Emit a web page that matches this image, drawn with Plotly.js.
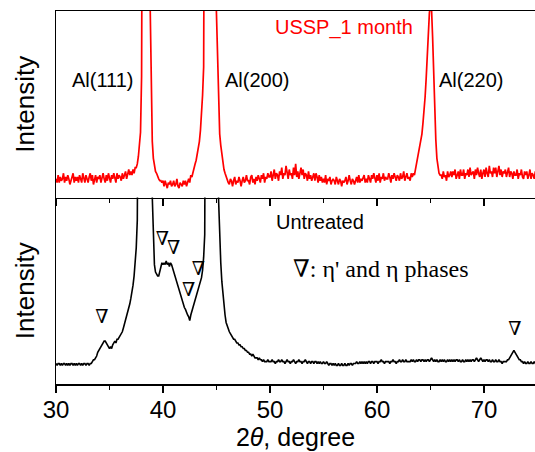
<!DOCTYPE html>
<html>
<head>
<meta charset="utf-8">
<script src="https://cdn.plot.ly/plotly-3.0.1.min.js"></script>
<style>html,body{margin:0;padding:0;background:#fff;}#chart{width:535px;height:452px;}</style>
</head>
<body>
<div id="chart"></div>
<script>
// 2θ sampling grid: 30.0 to 75.0 in 0.1° steps
const thetaStart = 30.0;
const thetaStep = 0.1;

// USSP_1 month (red, top panel), one value per 0.1°
const usspIntensity = [
 10,8,12,8,11,9,10,13,8,11,
 9,12,10,7,9,12,13,8,11,9,
 11,8,12,10,8,13,10,8,12,10,
 8,11,13,9,12,7,10,12,8,11,
 10,12,8,10,13,10,8,12,9,13,
 10,8,12,10,13,11,8,13,10,12,
 11,9,13,10,12,14,10,13,15,12,
 14,12,15,13,16,16,18,22,27,35,
 65,130,320,600,540,380,230,140,105,50,
 30,21,17,14,13,11,10,9,9,8,
 9,6,9,7,5,8,7,9,6,7,
 9,6,7,10,6,5,8,7,6,9,
 7,9,6,8,10,8,12,11,14,16,
 18,20,23,26,30,36,44,55,70,95,
 140,300,650,950,1100,900,600,320,180,120,
 98,72,50,34,28,23,18,15,13,11,
 10,8,7,10,9,6,9,11,7,9,
 8,11,9,6,9,11,8,9,12,9,
 9,7,11,12,8,10,7,11,9,12,
 10,8,12,10,13,8,11,10,13,11,
 11,14,9,12,15,10,13,12,9,14,
 12,16,10,13,12,17,13,10,15,12,
 13,10,16,12,18,11,14,10,13,16,
 12,15,10,13,12,9,14,10,12,9,
 11,13,9,13,11,8,12,9,11,8,
 10,8,12,7,10,9,11,7,9,10,
 9,7,11,9,7,10,9,6,9,8,
 9,11,7,9,12,9,7,10,9,7,
 9,11,8,12,8,10,9,11,12,8,
 10,8,12,10,8,12,10,13,10,8,
 12,9,13,8,11,10,13,9,11,10,
 10,13,11,8,12,10,13,11,9,12,
 11,9,13,10,11,14,9,11,13,10,
 11,9,13,11,13,12,15,17,20,24,
 27,30,34,40,46,54,64,76,90,99,
 103,101,86,64,46,31,21,16,13,12,
 12,10,14,11,12,9,14,11,12,14,
 11,14,12,15,10,12,14,10,15,12,
 12,15,10,13,12,15,11,16,12,13,
 14,10,15,12,16,13,11,15,10,13,
 15,11,16,13,11,17,13,14,11,16,
 13,16,11,14,17,12,15,11,14,13,
 15,11,13,16,11,14,13,10,14,12,
 12,15,10,13,12,15,11,10,14,12,
 14,10,12,15,10,13,12,10,14,12,
 12
];

// Untreated (black, bottom panel), one value per 0.1°
const untreatedIntensity = [
 11,10,11,11,10,11,10,11,11,10,
 11,10,11,10,11,11,10,11,10,11,
 10,11,11,10,11,10,11,11,10,11,
 11,10,11,11,12,13,13,14,15,17,
 18,19,20,21,22,23,23,22,21,20,
 19,20,19,21,22,23,22,24,24,25,
 26,27,28,30,32,34,36,38,40,43,
 46,49,53,58,64,73,88,110,160,260,
 420,620,820,900,820,620,420,260,170,120,
 100,82,64,60,59,58,58,61,63,65,
 64,65,64,66,64,65,63,65,64,62,
 60,58,56,54,52,50,48,46,44,42,
 41,40,38,37,36,34,37,39,41,43,
 44,46,48,50,52,54,57,61,68,80,
 110,200,400,700,900,1000,800,500,300,180,
 150,120,98,78,65,55,48,42,37,33,
 31,29,28,27,26,25,24,24,23,22,
 22,21,21,20,20,19,19,18,18,17,
 17,16,16,15,16,15,14,14,14,13,
 14,13,13,12,13,12,12,12,13,12,
 12,12,13,12,12,11,12,12,13,12,
 12,13,12,12,11,12,13,12,12,11,
 12,12,13,12,11,12,12,13,12,12,
 11,12,12,13,12,11,12,12,11,12,
 12,11,12,12,11,12,11,12,11,11,
 12,11,11,12,11,10,11,11,10,11,
 10,11,10,10,11,10,10,11,10,10,
 11,10,10,11,10,11,11,10,11,11,
 11,12,11,11,12,11,12,11,12,11,
 12,11,12,12,11,12,12,11,12,12,
 12,11,12,12,13,12,12,11,12,12,
 12,12,11,12,12,13,12,12,11,12,
 12,13,12,12,13,12,12,13,12,12,
 12,12,13,12,13,12,12,13,12,13,
 13,12,13,13,12,13,12,13,13,12,
 13,14,13,12,13,12,13,12,12,13,
 12,13,12,13,12,12,13,12,13,12,
 13,12,13,12,13,13,12,13,12,12,
 13,12,12,13,12,13,12,13,12,13,
 13,12,13,14,13,12,13,14,13,12,
 13,12,13,13,12,13,12,12,13,12,
 12,13,12,12,13,12,12,11,12,12,
 12,12,13,13,14,15,16,17,18,17,
 16,15,14,13,13,12,12,11,12,11,
 11,12,11,11,12,11,11,12,11,11,
 11
];

// η' and η phase markers (bottom panel)
const phaseX = [34.3, 39.95, 41.0, 42.4, 43.3, 72.9];
const phaseY = [35, 77, 72.5, 50, 61, 29];

// Peak labels (top panel)
const peakLabels = ['Al(111)', 'Al(200)', 'Al(220)'];
const peakLabelX = [34.4, 48.74, 68.75];

const xTickVals = [30, 40, 50, 60, 70];
const xTickText = ['30', '40', '50', '60', '70'];

const twoTheta = usspIntensity.map((_, i) => +(thetaStart + i * thetaStep).toFixed(1));

const SANS = 'Liberation Sans, Arial, sans-serif';
const SERIF = 'Liberation Serif, Times New Roman, DejaVu Serif, serif';

const traces = [
  {x: twoTheta, y: usspIntensity, xaxis: 'x2', yaxis: 'y2', type: 'scatter', mode: 'lines',
   line: {color: '#ff0000', width: 1.7}, hoverinfo: 'skip'},
  {x: twoTheta, y: untreatedIntensity, xaxis: 'x', yaxis: 'y', type: 'scatter', mode: 'lines',
   line: {color: '#000000', width: 1.6}, hoverinfo: 'skip'},
  {x: phaseX, y: phaseY, xaxis: 'x', yaxis: 'y', type: 'scatter', mode: 'text',
   text: phaseX.map(() => '∇'), textposition: 'middle center',
   textfont: {family: SERIF, size: 19, color: '#000'}, hoverinfo: 'skip'}
];

const axisCommon = {
  range: [30, 74.77], showgrid: false, zeroline: false, showline: true,
  linecolor: '#000', linewidth: 1.5, ticks: 'outside', ticklen: 7, tickwidth: 1.5, tickcolor: '#000',
  tickmode: 'array', tickvals: xTickVals, ticktext: xTickText,
  minor: {tickmode: 'array', tickvals: [35, 45, 55, 65, 75], ticks: 'outside', ticklen: 4, tickwidth: 1.5, tickcolor: '#000', showgrid: false}
};

const layout = {
  width: 535, height: 452,
  margin: {l: 56, r: 0, t: 11, b: 68},
  paper_bgcolor: '#fff', plot_bgcolor: '#fff',
  showlegend: false,
  font: {family: SANS, color: '#000'},
  xaxis: Object.assign({}, axisCommon, {
    anchor: 'y', domain: [0, 1],
    tickfont: {family: SANS, size: 24, color: '#000'},
    ticklabelstandoff: -3,
    title: {text: '2<i>θ</i>, degree', font: {family: SANS, size: 25, color: '#000'}, standoff: 6}
  }),
  xaxis2: Object.assign({}, axisCommon, {
    anchor: 'y2', matches: 'x', showticklabels: false, mirror: true
  }),
  yaxis: {
    domain: [0, 0.5], range: [0, 100], showgrid: false, zeroline: false, showline: true,
    linecolor: '#000', linewidth: 1.5, ticks: '', showticklabels: false,
    title: {text: 'Intensity', font: {family: SANS, size: 26, color: '#000'}, standoff: 12}
  },
  yaxis2: {
    domain: [0.5, 1], range: [0, 100], showgrid: false, zeroline: false, showline: true,
    linecolor: '#000', linewidth: 1.5, ticks: '', showticklabels: false, anchor: 'x2',
    title: {text: 'Intensity', font: {family: SANS, size: 26, color: '#000'}, standoff: 12}
  },
  annotations: [
    {xref: 'x2', yref: 'y2', x: 56.9, y: 90.9, text: 'USSP_1 month', showarrow: false,
     xanchor: 'center', yanchor: 'middle', font: {family: SANS, size: 20, color: '#ff0000'}}
  ].concat(peakLabels.map((t, i) => ({
     xref: 'x2', yref: 'y2', x: peakLabelX[i], y: 62.9, text: t, showarrow: false,
     xanchor: 'center', yanchor: 'middle', font: {family: SANS, size: 20, color: '#000'}
  }))).concat([
    {xref: 'x', yref: 'y', x: 54.67, y: 86.6, text: 'Untreated', showarrow: false,
     xanchor: 'center', yanchor: 'middle', font: {family: SANS, size: 20, color: '#000'}},
    {xref: 'x', yref: 'y', x: 60.33, y: 61.5, text: "∇: η' and η phases", showarrow: false,
     xanchor: 'center', yanchor: 'middle', font: {family: SERIF, size: 24, color: '#000'}}
  ])
};

Plotly.newPlot('chart', traces, layout, {displayModeBar: false, staticPlot: true});
</script>
</body>
</html>
